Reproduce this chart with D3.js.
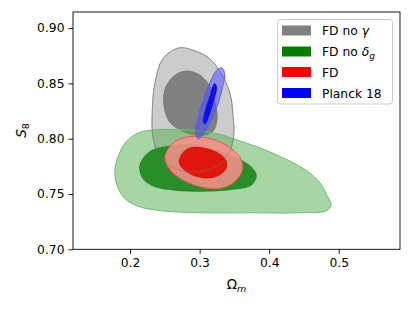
<!DOCTYPE html>
<html><head><meta charset="utf-8">
<script src="https://cdn.jsdelivr.net/npm/d3@7"></script>
<style>
html,body{margin:0;padding:0;background:#fff;}
svg{display:block;font-family:"DejaVu Sans",sans-serif;}
</style></head>
<body><svg id="c" width="413" height="310"></svg>
<script>
// Contours as [Omega_m, S8] pairs
const fdNoGamma95 = [[0.270,0.882],[0.295,0.879],[0.315,0.872],[0.332,0.858],[0.344,0.840],[0.348,0.821],[0.349,0.803],[0.341,0.785],[0.321,0.774],[0.293,0.770],[0.265,0.773],[0.243,0.783],[0.233,0.801],[0.232,0.826],[0.236,0.851],[0.247,0.872]];
const fdNoGamma68 = [[0.279,0.861],[0.299,0.858],[0.314,0.848],[0.322,0.833],[0.325,0.817],[0.318,0.806],[0.298,0.803],[0.275,0.807],[0.257,0.815],[0.249,0.829],[0.250,0.844],[0.262,0.856]];
const fdNoDelta95 = [[0.178,0.770],[0.183,0.784],[0.194,0.797],[0.211,0.805],[0.236,0.808],[0.279,0.808],[0.322,0.805],[0.358,0.798],[0.405,0.787],[0.454,0.771],[0.473,0.760],[0.482,0.750],[0.489,0.740],[0.483,0.735],[0.444,0.733],[0.372,0.733],[0.301,0.733],[0.243,0.735],[0.211,0.739],[0.194,0.745],[0.183,0.755]];
const fdNoDelta68 = [[0.213,0.774],[0.219,0.783],[0.232,0.790],[0.250,0.793],[0.279,0.795],[0.308,0.793],[0.341,0.786],[0.370,0.777],[0.382,0.767],[0.375,0.758],[0.351,0.754],[0.308,0.752],[0.265,0.753],[0.236,0.756],[0.219,0.763]];
const fd95 = [[0.250,0.783],[0.256,0.792],[0.269,0.799],[0.289,0.802],[0.315,0.800],[0.341,0.793],[0.358,0.783],[0.362,0.774],[0.355,0.764],[0.336,0.756],[0.315,0.755],[0.293,0.758],[0.272,0.764],[0.256,0.773]];
const fd68 = [[0.270,0.779],[0.275,0.787],[0.286,0.792],[0.305,0.792],[0.325,0.788],[0.338,0.781],[0.339,0.774],[0.329,0.767],[0.311,0.764],[0.289,0.767],[0.275,0.773]];
const planck95 = [[0.332,0.864],[0.336,0.858],[0.333,0.847],[0.325,0.829],[0.313,0.812],[0.303,0.802],[0.298,0.800],[0.294,0.805],[0.297,0.817],[0.305,0.835],[0.315,0.851],[0.325,0.862]];
const planck68 = [[0.322,0.850],[0.325,0.846],[0.321,0.835],[0.314,0.821],[0.308,0.813],[0.305,0.815],[0.308,0.826],[0.315,0.840],[0.319,0.848]];

const xTicks = [0.2, 0.3, 0.4, 0.5];
const yTicks = [0.70, 0.75, 0.80, 0.85, 0.90];
const xDomain = [0.118, 0.588];
const yDomain = [0.70, 0.9145];
const legendLabels = ["FD no γ", "FD no δg", "FD", "Planck 18"];
const legendColors = ["#808080", "#008000", "#ff0000", "#0000ff"];

const svg = d3.select("#c");
const L = 73, R = 400, T = 12, B = 249.3;
const x = d3.scaleLinear().domain(xDomain).range([L, R]);
const y = d3.scaleLinear().domain(yDomain).range([B, T]);

svg.append("defs").append("clipPath").attr("id","pc")
  .append("rect").attr("x",L).attr("y",T).attr("width",R-L).attr("height",B-T);

const line = d3.line().x(d=>x(d[0])).y(d=>y(d[1])).curve(d3.curveCatmullRomClosed.alpha(0.5));
const g = svg.append("g").attr("clip-path","url(#pc)");

const layers = [
  {d: fdNoGamma95, fill:"#cccccc", fo:1, stroke:"#a0a0a0"},
  {d: fdNoGamma68, fill:"#808080", fo:1, stroke:"#7a7a7a"},
  {d: fdNoDelta95, fill:"rgb(81,171,77)", fo:0.5, stroke:"rgb(110,190,110)"},
  {d: fdNoDelta68, fill:"rgb(30,135,30)", fo:0.92, stroke:"none"},
  {d: fd95, fill:"rgb(250,142,138)", fo:0.86, stroke:"rgb(235,85,85)"},
  {d: fd68, fill:"rgb(222,16,6)", fo:0.95, stroke:"none"},
  {d: fdNoGamma95, fill:"none", fo:0, stroke:"rgba(120,120,120,0.45)"},
  {d: planck95, fill:"rgb(70,70,255)", fo:0.5, stroke:"rgb(90,90,255)"},
  {d: planck68, fill:"rgb(10,10,235)", fo:0.95, stroke:"none"}
];
layers.forEach(l=>{
  g.append("path").attr("d", line(l.d))
    .attr("fill", l.fill).attr("fill-opacity", l.fo)
    .attr("stroke", l.stroke).attr("stroke-width", 1);
});

// Axes
const fs = 12.3;
const xAxis = d3.axisBottom(x).tickValues(xTicks).tickFormat(d3.format(".1f")).tickSize(4.5).tickPadding(4);
const yAxis = d3.axisLeft(y).tickValues(yTicks).tickFormat(d3.format(".2f")).tickSize(4.5).tickPadding(4);
const gx = svg.append("g").attr("transform",`translate(0,${B})`).call(xAxis);
const gy = svg.append("g").attr("transform",`translate(${L},0)`).call(yAxis);
[gx, gy].forEach(a=>{
  a.select(".domain").remove();
  a.selectAll("text").attr("font-size", fs).attr("font-family","DejaVu Sans").attr("fill","#000");
  a.selectAll("line").attr("stroke","#000").attr("stroke-width",0.9);
});
svg.append("rect").attr("x",L).attr("y",T).attr("width",R-L).attr("height",B-T)
  .attr("fill","none").attr("stroke","#000").attr("stroke-width",0.9);

// Axis labels
const xl = svg.append("text").attr("x", 236.5).attr("y", 289).attr("text-anchor","middle").attr("font-size", 13.5);
xl.append("tspan").text("Ω");
xl.append("tspan").attr("dy", 3).attr("font-size", 9.5).attr("font-style","italic").text("m");

const yl = svg.append("text").attr("transform","translate(26,130.5) rotate(-90)").attr("text-anchor","middle").attr("font-size", 13.5);
yl.append("tspan").attr("font-style","italic").text("S");
yl.append("tspan").attr("dy", 3).attr("font-size", 9.5).text("8");

// Legend
const lg = svg.append("g");
lg.append("rect").attr("x",277.5).attr("y",19.5).attr("width",115).attr("height",84.5).attr("rx",3)
  .attr("fill","#fff").attr("fill-opacity",0.8).attr("stroke","#cccccc").attr("stroke-width",1);
const rowY = [30.5, 51.5, 72, 93];
legendLabels.forEach((lab,i)=>{
  lg.append("rect").attr("x",282).attr("y",rowY[i]-5).attr("width",29).attr("height",10).attr("fill",legendColors[i]);
  const t = lg.append("text").attr("x",322).attr("y",rowY[i]+4.5).attr("font-size",fs);
  if (i===0){ t.append("tspan").text("FD no "); t.append("tspan").attr("font-style","italic").text("γ"); }
  else if (i===1){ t.append("tspan").text("FD no "); t.append("tspan").attr("font-style","italic").text("δ");
    t.append("tspan").attr("font-style","italic").attr("font-size",9).attr("dy",3).text("g"); }
  else t.text(lab);
});
</script></body></html>
